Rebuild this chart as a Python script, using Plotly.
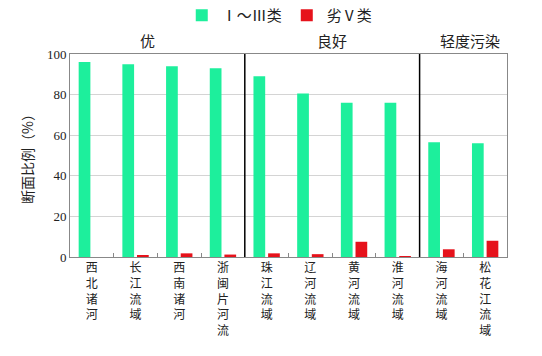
import plotly.graph_objects as go

categories = ["西北诸河", "长江流域", "西南诸河", "浙闽片河流", "珠江流域",
              "辽河流域", "黄河流域", "淮河流域", "海河流域", "松花江流域"]
good_values = [96, 95, 94, 93, 89, 80.5, 76, 76, 56.5, 56]
bad_values = [0, 0.5, 1.8, 1.2, 1.8, 1.4, 7.5, 0.4, 3.8, 8]
series_names = ["Ⅰ～Ⅲ类", "劣Ⅴ类"]
group_labels = ["优", "良好", "轻度污染"]
group_label_pos = [1.27, 5.5, 8.65]
separators = [3.5, 7.5]

cjk = "Noto Sans CJK SC"
serif = "Liberation Serif"

tick_text = ["<br>".join(list(c)) for c in categories]

fig = go.Figure()
fig.add_trace(go.Bar(x=categories, y=good_values, name=series_names[0],
                     marker=dict(color="#1DEF9C", line=dict(width=0))))
fig.add_trace(go.Bar(x=categories, y=bad_values, name=series_names[1],
                     marker=dict(color="#E6121B", line=dict(width=0))))

shapes = []
for s in separators:
    shapes.append(dict(type="line", xref="x", yref="paper", x0=s, x1=s, y0=0, y1=1,
                       line=dict(color="black", width=1.5)))

annotations = []
for lab, pos in zip(group_labels, group_label_pos):
    annotations.append(dict(text=lab, x=pos, xref="x", y=1.005, yref="paper",
                            yanchor="bottom", showarrow=False,
                            font=dict(family=cjk, size=15, color="#222")))

# page body has an 8px offset, so the figure is sized/placed to compensate
fig.update_layout(
    width=534, height=348,
    margin=dict(l=62, r=35, t=46, b=99, autoexpand=False),
    paper_bgcolor="white", plot_bgcolor="white",
    barmode="group", bargap=0.33, bargroupgap=0.2,
    showlegend=True,
    legend=dict(orientation="h", x=0.48, xanchor="center", y=1.19, yanchor="middle",
                font=dict(family=serif + ", " + cjk, size=15, color="#222"),
                itemwidth=30, tracegroupgap=0, bgcolor="rgba(0,0,0,0)"),
    shapes=shapes,
    annotations=annotations,
    xaxis=dict(type="category", tickmode="array", tickvals=categories, ticktext=tick_text,
               tickson="boundaries", ticks="inside", ticklen=4, tickcolor="#888",
               showline=True, linecolor="#888", linewidth=1, mirror=True,
               showgrid=False, tickangle=0,
               tickfont=dict(family=cjk, size=12, color="#222")),
    yaxis=dict(range=[0, 100], dtick=20, showgrid=True, gridcolor="#d4d4d4",
               showline=True, linecolor="#888", linewidth=1, mirror=True,
               ticks="", zeroline=False,
               tickfont=dict(family=serif, size=13, color="#222"),
               title=dict(text="断面比例（%）", font=dict(family=cjk, size=14, color="#222"),
                          standoff=10)),
    font=dict(family=cjk),
)

fig.write_html("out.html")
